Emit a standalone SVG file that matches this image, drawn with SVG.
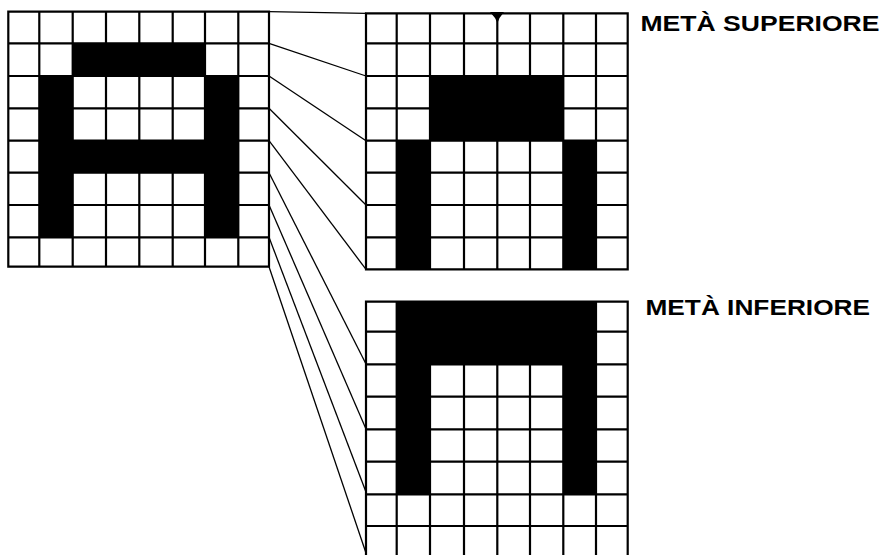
<svg xmlns="http://www.w3.org/2000/svg" width="885" height="555" viewBox="0 0 885 555">
<style>
.grid{fill:#fff;stroke:#000;stroke-width:2.2;stroke-linecap:square}
.blk{fill:#000;stroke:none}
.con line{stroke:#000;stroke-width:1.3}
.lbl{font-family:"Liberation Sans",Arial,sans-serif;font-weight:bold;font-size:22.5px;fill:#000}
</style>
<rect width="885" height="555" fill="#fff"/>
<g id="left-grid">
<path class="grid" d="M8.3,11.7H269V266.7H8.3Z M8.3,43.3H269 M8.3,76H269 M8.3,108.3H269 M8.3,140.7H269 M8.3,172.7H269 M8.3,205H269 M8.3,237.3H269 M39.3,11.7V266.7 M72.7,11.7V266.7 M106,11.7V266.7 M139.3,11.7V266.7 M172.7,11.7V266.7 M205,11.7V266.7 M238.3,11.7V266.7"/>
<rect class="blk" x="72.7" y="43.3" width="132.3" height="32.7"/>
<rect class="blk" x="39.3" y="76" width="33.4" height="161.3"/>
<rect class="blk" x="205" y="76" width="33.3" height="161.3"/>
<rect class="blk" x="39.3" y="140.7" width="199" height="32"/>
</g>
<g id="upper-half-grid">
<path class="grid" d="M366,13.3H627.7V269.3H366Z M366,43.3H627.7 M366,76H627.7 M366,108.3H627.7 M366,140.7H627.7 M366,172.7H627.7 M366,205H627.7 M366,237.3H627.7 M396.7,13.3V269.3 M430,13.3V269.3 M464,13.3V269.3 M497.3,13.3V269.3 M530,13.3V269.3 M563.3,13.3V269.3 M596,13.3V269.3"/>
<rect class="blk" x="430" y="76" width="133.3" height="64.7"/>
<rect class="blk" x="396.7" y="140.7" width="33.3" height="128.6"/>
<rect class="blk" x="563.3" y="140.7" width="32.7" height="128.6"/>
<path class="blk" d="M490,12 L504,12 L499.5,18 L497.5,23 L495,18 Z"/>
</g>
<g id="lower-half-grid">
<path class="grid" d="M366,301.7H627.7V558H366Z M366,331.7H627.7 M366,364.3H627.7 M366,396.7H627.7 M366,429.3H627.7 M366,461.7H627.7 M366,494.3H627.7 M366,526H627.7 M396.7,301.7V558 M430,301.7V558 M464,301.7V558 M497.3,301.7V558 M530,301.7V558 M563.3,301.7V558 M596,301.7V558"/>
<rect class="blk" x="396.7" y="301.7" width="199.3" height="62.6"/>
<rect class="blk" x="396.7" y="364.3" width="33.3" height="130"/>
<rect class="blk" x="563.3" y="364.3" width="32.7" height="130"/>
</g>
<g id="connectors" class="con">
<line x1="269" y1="11.7" x2="366" y2="13.3"/>
<line x1="269" y1="43.3" x2="366" y2="76"/>
<line x1="269" y1="76" x2="366" y2="140.7"/>
<line x1="269" y1="108.3" x2="366" y2="205"/>
<line x1="269" y1="140.7" x2="366" y2="269.3"/>
<line x1="269" y1="172.7" x2="366" y2="364"/>
<line x1="269" y1="205" x2="366" y2="429"/>
<line x1="269" y1="237.3" x2="366" y2="492"/>
<line x1="269" y1="266.7" x2="366" y2="553"/>
</g>
<g id="label-upper">
<text class="lbl" x="640.5" y="30.5" textLength="239" lengthAdjust="spacingAndGlyphs">METÀ SUPERIORE</text>
</g>
<g id="label-lower">
<text class="lbl" x="645.5" y="315" textLength="224.5" lengthAdjust="spacingAndGlyphs">METÀ INFERIORE</text>
</g>
</svg>
